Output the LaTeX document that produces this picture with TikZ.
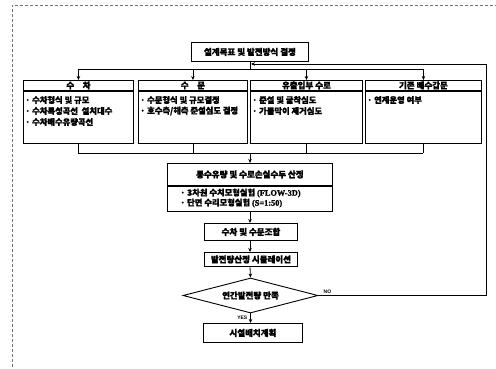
\documentclass[tikz,border=0pt]{standalone}
\usepackage{fontspec}
\setmainfont{Noto Sans CJK KR}[FakeBold=1.5]
\newfontfamily\lat{Liberation Serif}[FakeBold=1.5]
\newfontfamily\labfont{Liberation Sans}
\usetikzlibrary{arrows.meta,shapes.geometric}
\tikzset{
  box/.style={draw=black, line width=0.9pt, inner sep=0pt, fill=white},
  head/.style={font=\fontsize{8.5}{9}\selectfont\bfseries},
  item/.style={font=\fontsize{8.3}{9}\selectfont\bfseries, inner sep=0pt, anchor=west},
  conn/.style={draw=black, line width=0.8pt},
  arr/.style={conn, -{Stealth[length=4pt,width=3.5pt]}},
  frameline/.style={draw=black!55, line width=0.7pt, densely dashed},
  tag/.style={font=\labfont\fontsize{5}{5}\selectfont\bfseries, inner sep=0.5pt}
}
\begin{document}
\begin{tikzpicture}[x=1pt,y=-1pt]
\useasboundingbox (0,0) rectangle (496,368);
\fill[white] (0,0) rectangle (496,368);
\draw[frameline] (12,372) -- (12,5) -- (500,5);

% top box
\node[box, head, minimum width=117, minimum height=19, anchor=north west] (goal) at (191,42) {설계목표 및 발전방식 결정};

% four boxes: headers and bodies
\node[box, head, minimum width=110, minimum height=10, anchor=north west] (h1) at (23,80) {수\quad 차};
\node[box, minimum width=110, minimum height=52, anchor=north] (b1) at (h1.south) {};
\node[box, head, minimum width=109, minimum height=10, anchor=north west] (h2) at (138,80) {수\quad 문};
\node[box, minimum width=109, minimum height=52, anchor=north] (b2) at (h2.south) {};
\node[box, head, minimum width=112, minimum height=10, anchor=north west] (h3) at (250,80) {유출입부 수로};
\node[box, minimum width=112, minimum height=52, anchor=north] (b3) at (h3.south) {};
\node[box, head, minimum width=116, minimum height=10, anchor=north west] (h4) at (365,80) {기존 배수갑문};
\node[box, minimum width=116, minimum height=52, anchor=north] (b4) at (h4.south) {};

\node[item] (t11) at (25,100) {· 수차형식 및 규모};
\node[item] (t12) at (25,111) {· 수차특성곡선\ \ 설치대수};
\node[item] (t13) at (25,122) {· 수차배수유량곡선};
\node[item] (t21) at (140,100) {· 수문형식 및 규모결정};
\node[item] (t22) at (140,111) {· 호수측/해측 준설심도 결정};
\node[item] (t31) at (252,100) {· 준설 및 굴착심도};
\node[item] (t32) at (252,111) {· 가물막이 제거심도};
\node[item] (t41) at (367,100) {· 연계운영 여부};

% middle box
\node[box, head, minimum width=165, minimum height=22, anchor=north west] (mh) at (167,163) {통수유량 및 수로손실수두 산정};
\node[box, minimum width=165, minimum height=25, anchor=north] (mb) at (mh.south) {};
\node[item] (m1) at (180,193) {· 3차원 수치모형실험 {\lat(FLOW-3D)}};
\node[item] (m2) at (180,203) {· 단면 수리모형실험 {\lat(S=1:50)}};

% lower chain
\node[box, head, minimum width=93, minimum height=17, anchor=north west] (comb) at (204,223) {수차 및 수문조합};
\node[box, head, minimum width=93, minimum height=14, anchor=north west] (sim) at (204,252) {발전량산정 시뮬레이션};
\node[box, head, diamond, aspect=3.9, minimum width=135, minimum height=35] (dia) at (250.5,295.5) {연간발전량 만족};
\node[box, head, minimum width=99, minimum height=19, anchor=north west] (plan) at (203,323) {시설배치계획};

% coordinates
\coordinate (busT) at (250,69);
\coordinate (busB) at (250,153);
\coordinate (fbx) at (486,295.5);
\coordinate (fbt) at (486,64);
\coordinate (fbend) at (251,64);

% connectors top
\draw[conn] (goal.south -| busT) -- (busT);
\draw[conn] (h1.north |- busT) -- (h4.north |- busT);
\draw[arr] (h1.north |- busT) -- (h1.north);
\draw[arr] (h2.north |- busT) -- (h2.north);
\draw[arr] (h3.north |- busT) -- (h3.north);
\draw[arr] (h4.north |- busT) -- (h4.north);

% connectors bottom of four boxes
\draw[conn] (b1.south) -- (b1.south |- busB);
\draw[conn] (b2.south) -- (b2.south |- busB);
\draw[conn] (b3.south) -- (b3.south |- busB);
\draw[conn] (b4.south) -- (b4.south |- busB);
\draw[conn] (b1.south |- busB) -- (b4.south |- busB);
\draw[arr] (busB) -- (mh.north -| busB);

% chain
\draw[arr] (mb.south -| busB) -- (comb.north -| busB);
\draw[arr] (comb.south -| busB) -- (sim.north -| busB);
\draw[arr] (sim.south -| busB) -- (dia.north);
\draw[arr] (dia.south) -- (plan.north -| dia.south);

% feedback
\draw[arr] (dia.east) -- (fbx) -- (fbt) -- (fbend);

\node[tag, anchor=east] (yes) at (248,318) {YES};
\node[tag, anchor=south west] (no) at (323,294) {NO};
\end{tikzpicture}
\end{document}
